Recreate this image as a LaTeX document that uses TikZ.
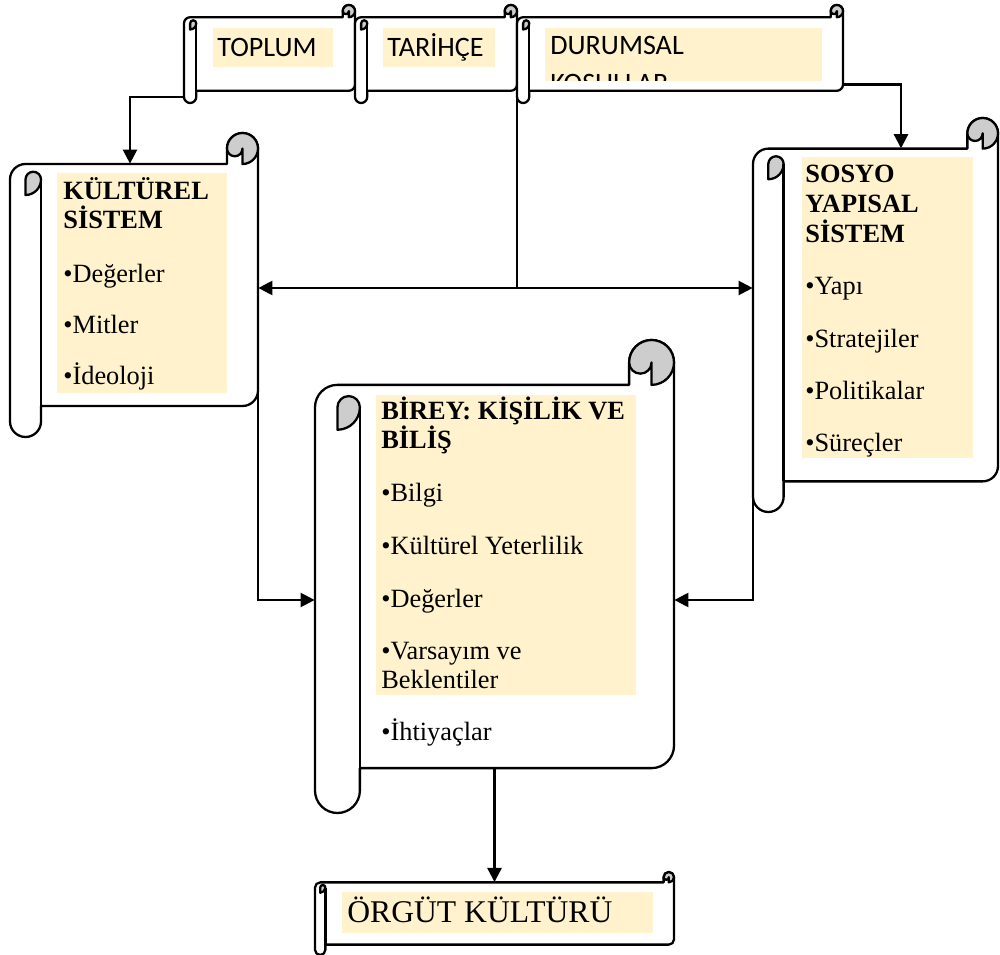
\documentclass[tikz,border=0pt]{standalone}
\usepackage{fontspec}
\setmainfont{Liberation Serif}
\newfontfamily\calibri{Carlito}
\usepackage{tikz}
\usetikzlibrary{arrows.meta, fit}
\definecolor{curlgray}{RGB}{205,205,205}
\definecolor{hilite}{RGB}{255,242,204}

% scroll: name, left, top, right, bottom (in px, y down)
\newcommand{\scrollshape}[5]{%
  \pgfmathsetmacro\scL{#2}\pgfmathsetmacro\scT{#3}%
  \pgfmathsetmacro\scR{#4}\pgfmathsetmacro\scB{#5}%
  \pgfmathsetmacro\scC{0.125*min(\scR-\scL,\scB-\scT)}%
  \pgfmathsetmacro\scH{\scC/2}\pgfmathsetmacro\scQ{\scC/4}%
  \filldraw[scroll, fill=white] (\scL+\scH,\scT+\scC) -- (\scR-\scC,\scT+\scC) -- (\scR-\scC,\scT+\scH)
    arc[start angle=180, end angle=360, radius=\scH] -- (\scR,\scB-\scC-\scH)
    arc[start angle=0, end angle=90, radius=\scH] -- (\scL+\scC,\scB-\scC) -- (\scL+\scC,\scB-\scH)
    arc[start angle=0, end angle=180, radius=\scH] -- (\scL,\scT+\scC+\scH)
    arc[start angle=180, end angle=270, radius=\scH] -- cycle;
  \filldraw[scroll, fill=curlgray] (\scR-\scC,\scT+\scH) arc[start angle=180, end angle=360, radius=\scH]
    arc[start angle=0, end angle=90, radius=\scH] -- (\scR-\scH,\scT+\scH)
    arc[start angle=0, end angle=180, radius=\scQ] -- cycle;
  \filldraw[scroll, fill=curlgray] (\scL+\scH,\scT+\scC+\scH) arc[start angle=180, end angle=360, radius=\scQ]
    arc[start angle=0, end angle=90, radius=\scH] -- cycle;
  \draw[scroll] (\scL+\scC,\scT+\scC+\scH) -- (\scL+\scC,\scB-\scC);
  \node[fit={(\scL,\scT+\scC) (\scR,\scB-\scC)}, inner sep=0pt] (#1) {};
  \coordinate (#1-foot) at (\scL,\scB-\scH);
  \coordinate (#1-corner) at (\scR,\scB-\scC-\scH);
}

\begin{document}
\begin{tikzpicture}[x=0.02cm, y=-0.02cm,
    scroll/.style={draw=black, line width=1.3pt, line join=round},
    hl/.style={fill=hilite},
    body/.style={anchor=base west, inner sep=0pt, font=\fontsize{15}{17}\selectfont},
    head/.style={anchor=base west, inner sep=0pt, font=\fontsize{15}{17}\selectfont\bfseries},
    tag/.style={anchor=base west, inner sep=0pt, font=\calibri\fontsize{16}{19}\selectfont},
    arr/.style={-{Triangle[length=8pt, width=8pt]}, line width=1.3pt},
    darr/.style={{Triangle[length=8pt, width=8pt]}-{Triangle[length=8pt, width=8pt]}, line width=1.3pt},
    link/.style={line width=1.3pt}
]
\useasboundingbox (0,0) rectangle (1000,955);

% top row
\scrollshape{toplum}{184}{5}{355}{103}
\fill[hl] (213,28) rectangle (333,67);
\node[tag] (toplum-t) at (217,57) {TOPLUM};

\scrollshape{tarihce}{355}{5}{517}{103}
\fill[hl] (383,28) rectangle (495,67);
\node[tag] (tarihce-t) at (387,57) {TARİHÇE};

\scrollshape{durumsal}{517}{5}{843}{103}
\begin{scope}
  \clip (545,28) rectangle (822,81);
  \fill[hl] (545,28) rectangle (822,81);
  \node[tag] (durumsal-t1) at (550,55) {DURUMSAL};
  \node[tag] (durumsal-t2) at (550,93) {KOŞULLAR};
\end{scope}

% left: kultur
\scrollshape{kult}{10}{133}{258}{437}
\fill[hl] (57,173) rectangle (227,393);
\node[head] (kult-1) at (63,200) {KÜLTÜREL};
\node[head] (kult-2) at (63,229) {SİSTEM};
\node[body] (kult-3) at (63,283) {•Değerler};
\node[body] (kult-4) at (63,334) {•Mitler};
\node[body] (kult-5) at (63,385) {•İdeoloji};

% right: sosyo yapisal
\scrollshape{sosyo}{753}{118}{998}{512}
\fill[hl] (802,157) rectangle (973,458);
\node[head] (sosyo-1) at (805,183) {SOSYO};
\node[head] (sosyo-2) at (805,213) {YAPISAL};
\node[head] (sosyo-3) at (805,243) {SİSTEM};
\node[body] (sosyo-4) at (805,295) {•Yapı};
\node[body] (sosyo-5) at (805,348) {•Stratejiler};
\node[body] (sosyo-6) at (805,400) {•Politikalar};
\node[body] (sosyo-7) at (805,452) {•Süreçler};

% center: birey
\scrollshape{birey}{315}{340}{674}{813}
\fill[hl] (376,395) rectangle (636,695);
\node[head] (birey-1) at (381,420) {BİREY: KİŞİLİK VE};
\node[head] (birey-2) at (381,449) {BİLİŞ};
\node[body] (birey-3) at (381,502) {•Bilgi};
\node[body] (birey-4) at (381,555) {•Kültürel Yeterlilik};
\node[body] (birey-5) at (381,607) {•Değerler};
\node[body] (birey-6) at (381,659) {•Varsayım ve};
\node[body] (birey-7) at (381,688) {Beklentiler};
\node[body] (birey-8) at (381,740) {•İhtiyaçlar};

% bottom: orgut kulturu
\scrollshape{orgut}{315}{872}{674}{955}
\fill[hl] (342,892) rectangle (653,933);
\node[body, font=\fontsize{18}{21}\selectfont] (orgut-t) at (347,922) {ÖRGÜT KÜLTÜRÜ};

% connectors
\draw[arr] (toplum-foot) -| (kult.north -| 130,0);
\draw[arr] (durumsal-corner) -| (sosyo.north -| 901,0);
\draw[link] (durumsal-foot) -- (durumsal-foot |- 0,288);
\draw[darr] (kult.east |- 0,288) -- (sosyo.west |- 0,288);
\draw[arr] (kult-corner) |- (birey.west |- 0,600);
\draw[arr] (sosyo-foot) |- (birey.east |- 0,600);
\draw[arr] (birey.south) -- (orgut.north);
\end{tikzpicture}
\end{document}
